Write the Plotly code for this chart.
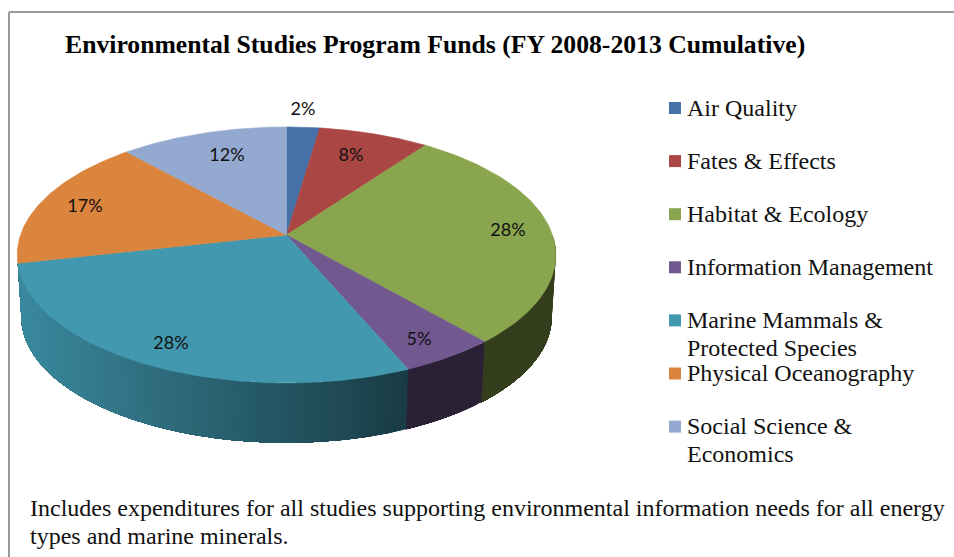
import numpy as np
import plotly.graph_objects as go

# ---- data ----
categories = ["Air Quality", "Fates & Effects", "Habitat & Ecology", "Information Management",
              "Marine Mammals &<br>Protected Species", "Physical Oceanography",
              "Social Science &<br>Economics"]
shares = [2.3, 7.7, 28.6, 5.0, 27.9, 16.8, 11.7]
share_labels = ["2%", "8%", "28%", "5%", "28%", "17%", "12%"]
title_text = "Environmental Studies Program Funds (FY 2008-2013 Cumulative)"
note_lines = ["Includes expenditures for all studies supporting environmental information needs for all energy",
              "types and marine minerals."]

# ---- style / layout ----
colors = [(68, 114, 168), (170, 70, 67), (137, 165, 78), (113, 88, 143),
          (65, 152, 175), (219, 132, 61), (147, 169, 207)]
CX, CY = 286.5, 235.0          # apex of the pie
R, H, P = 266.0, 124.9, 0.156  # projection of the unit circle
DEPTH, BOTTOM_SCALE = 62.0, 0.985
label_pos = [(303, 110), (351, 156), (508, 231), (419, 340), (171, 344), (85, 207), (227, 156)]
SERIF = "Liberation Serif"


def rim(theta):
    x, y = np.sin(theta), np.cos(theta)
    w = 1 + P * y
    return CX + R * x / w, CY - H * y / w


def rim_bottom(theta):
    sx, sy = rim(theta)
    return CX + BOTTOM_SCALE * (sx - CX), CY + DEPTH + BOTTOM_SCALE * (sy - CY)


def shade(x):
    return float(np.clip(0.9 - 0.5 * (x - 20) / 385, 0.38, 0.9))


fig = go.Figure()
edges = 2 * np.pi * np.concatenate([[0], np.cumsum(shares)]) / sum(shares)
WALL_START, WALL_END = np.pi / 2, edges[5]

# side wall: quads along the visible part of each slice, each overlapping the next
for i, col in enumerate(colors):
    a0, a1 = max(edges[i], WALL_START), min(edges[i + 1], WALL_END)
    if a1 <= a0:
        continue
    steps = max(2, int((a1 - a0) / 0.02))
    ts = np.linspace(a0, a1, steps + 1)
    for t0, t1 in zip(ts[:-1], ts[1:]):
        tt = np.linspace(t0, a1, max(2, int((a1 - t0) / 0.01)))
        xa, ya = rim(tt)
        xb, yb = rim_bottom(tt[::-1])
        f = shade(float(rim(np.array([(t0 + t1) / 2]))[0][0]))
        c = "rgb({},{},{})".format(*[int(v * f) for v in col])
        fig.add_trace(go.Scatter(x=list(xa) + list(xb), y=list(ya) + list(yb), fill="toself",
                                 fillcolor=c, mode="none",
                                 hoverinfo="skip", showlegend=False))

# top faces
for i, col in enumerate(colors):
    ts = np.linspace(edges[i], edges[i + 1], 80)
    xs, ys = rim(ts)
    c = "rgb({},{},{})".format(*col)
    fig.add_trace(go.Scatter(x=[CX] + list(xs) + [CX], y=[CY] + list(ys) + [CY], fill="toself",
                             fillcolor=c, mode="lines", line=dict(color=c, width=0.6),
                             name=categories[i].replace("<br>", " "), hoverinfo="name",
                             showlegend=False))

# percentage labels
fig.add_trace(go.Scatter(x=[p[0] for p in label_pos], y=[p[1] for p in label_pos], mode="text",
                         text=share_labels, textposition="middle center",
                         textfont=dict(family="Lato", size=18, color="#111111"),
                         hoverinfo="skip", showlegend=False))

# legend keys and text
LEG_X, LEG_Y, LEG_STEP = 675, 108, 53.1
rows = [LEG_Y + LEG_STEP * i for i in range(len(categories))]
fig.add_trace(go.Scatter(x=[LEG_X] * len(rows), y=rows, mode="markers",
                         marker=dict(symbol="square", size=12,
                                     color=["rgb({},{},{})".format(*c) for c in colors]),
                         hoverinfo="skip", showlegend=False))

annotations = []
for cat, y in zip(categories, rows):
    for j, line in enumerate(cat.split("<br>")):
        annotations.append(dict(x=684.5, y=y - 0.2 + 27.5 * j, xref="x", yref="y", text=line, showarrow=False,
                                xanchor="left", yanchor="middle", align="left",
                                font=dict(family=SERIF, size=24, color="#111111")))
annotations.append(dict(x=62.5, y=44.5, xref="x", yref="y", text="<b>" + title_text + "</b>", showarrow=False,
                        xanchor="left", yanchor="middle",
                        font=dict(family=SERIF, size=25.7, color="#000000")))
for j, line in enumerate(note_lines):
    annotations.append(dict(x=27.5, y=507.5 + 28 * j, xref="x", yref="y", text=line, showarrow=False,
                            xanchor="left", yanchor="middle", align="left",
                            font=dict(family=SERIF, size=24, color="#111111")))

fig.update_layout(
    width=954, height=557, margin=dict(l=0, r=0, t=0, b=0),
    paper_bgcolor="white", plot_bgcolor="white", showlegend=False,
    xaxis=dict(range=[0, 954], visible=False, fixedrange=True),
    yaxis=dict(range=[557, 0], visible=False, fixedrange=True),
    annotations=annotations,
    shapes=[dict(type="line", xref="x", yref="y", x0=9, y0=12, x1=954, y1=12,
                 line=dict(color="#9a9a9a", width=2)),
            dict(type="line", xref="x", yref="y", x0=9, y0=12, x1=9, y1=557,
                 line=dict(color="#9a9a9a", width=2))],
)
fig.write_html("out.html", post_script="document.body.style.margin='0';", config=dict(displayModeBar=False))
